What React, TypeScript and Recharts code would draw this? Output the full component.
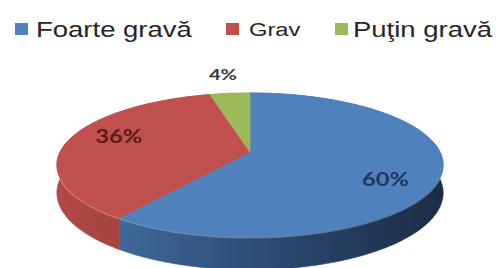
import React from 'react';
import { PieChart, Pie, Cell, Legend } from 'recharts';

const categories = ['Foarte gravă', 'Grav', 'Puţin gravă'];
const values = [60, 36, 4];
const topColors = ['#4f81bd', '#c0504d', '#9bbb59'];
const wallColors = ['url(#wallBlue)', 'url(#wallRed)', 'url(#wallGreen)'];
const labelColors = ['#1f3864', '#5a1e1c', '#383838'];

const data = categories.map((name, i) => ({ name, value: values[i] }));

const TILT = 0.3666;
const PERSP = 0.18;
const DEPTH = 27;
const STRETCH = 1.25;
const RAD = Math.PI / 180;

function project(cx: number, cy: number, R: number, angle: number, r: number) {
  const u = r * Math.cos(angle * RAD);
  const v = -r * Math.sin(angle * RAD);
  const denom = 1 - PERSP * v;
  return { x: cx + (R * u) / denom, y: cy + (R * TILT * v) / denom, denom, v };
}

function rimPoints(props: any) {
  const { cx, cy, outerRadius, startAngle, endAngle } = props;
  const n = Math.max(2, Math.ceil(Math.abs(endAngle - startAngle) / 1.5));
  const pts: { x: number; y: number; denom: number }[] = [];
  for (let i = 0; i <= n; i++) {
    const a = startAngle + ((endAngle - startAngle) * i) / n;
    pts.push(project(cx, cy, outerRadius, a, 1));
  }
  return pts;
}

function TopShape(props: any) {
  const { cx, cy, fill } = props;
  const pts = rimPoints(props);
  let d = `M${cx},${cy}`;
  pts.forEach((p) => (d += ` L${p.x.toFixed(2)},${p.y.toFixed(2)}`));
  d += ' Z';
  return <path d={d} fill={fill} stroke={fill} strokeWidth={0.6} />;
}

function WallShape(props: any) {
  const { fill } = props;
  const pts = rimPoints(props);
  let rim = '';
  pts.forEach((p, i) => (rim += `${i === 0 ? 'M' : ' L'}${p.x.toFixed(2)},${(p.y + 0.8).toFixed(2)}`));
  let d = '';
  pts.forEach((p, i) => (d += `${i === 0 ? 'M' : ' L'}${p.x.toFixed(2)},${p.y.toFixed(2)}`));
  for (let i = pts.length - 1; i >= 0; i--) {
    const p = pts[i];
    d += ` L${p.x.toFixed(2)},${(p.y + DEPTH / p.denom).toFixed(2)}`;
  }
  d += ' Z';
  return (
    <g>
      <path d={d} fill={fill} stroke={fill} strokeWidth={0.6} />
      <path d={rim} fill="none" stroke="rgba(255,255,255,0.28)" strokeWidth={1.6} />
    </g>
  );
}

function renderLabel(props: any) {
  const { cx, cy, outerRadius, midAngle, percent, index } = props;
  const big = percent >= 0.1;
  const r = big ? 0.72 : 1.42;
  const p = project(cx, cy, outerRadius, midAngle, r);
  const vUnit = -Math.sin(midAngle * RAD);
  const y = big ? p.y + DEPTH * 1.35 * vUnit : p.y;
  const fs = big ? 19 : 16;
  return (
    <text
      transform={`translate(${p.x.toFixed(1)},${(y + fs * 0.36).toFixed(1)}) scale(${STRETCH},1)`}
      x={0}
      y={0}
      textAnchor="middle"
      fontFamily="Lato, 'Open Sans', sans-serif"
      fontWeight={700}
      fontSize={fs}
      fill={labelColors[index]}
    >
      {`${Math.round(percent * 100)}%`}
    </text>
  );
}

const legendLayout = [
  { sx: 15, tx: 36, fs: 22, base: 37 },
  { sx: 226, tx: 249, fs: 19, base: 36 },
  { sx: 335, tx: 353, fs: 22, base: 37 },
];

function LegendContent() {
  return (
    <svg width={501} height={48} style={{ display: 'block' }}>
      {categories.map((name, i) => {
        const l = legendLayout[i];
        return (
          <g key={name}>
            <rect x={l.sx} y={23} width={13} height={12} fill={topColors[i]} />
            <text
              transform={`translate(${l.tx},${l.base}) scale(${STRETCH},1)`}
              x={0}
              y={0}
              fontFamily="'Liberation Sans', Arial, sans-serif"
              fontSize={l.fs}
              fill="#262626"
            >
              {name}
            </text>
          </g>
        );
      })}
    </svg>
  );
}

export default function App() {
  return (
    <div style={{ position: 'absolute', left: 0, top: 0, width: 501, height: 268, background: '#fff' }}>
      <PieChart width={501} height={268} margin={{ top: 0, right: 0, bottom: 0, left: 0 }}>
        <defs>
          <linearGradient id="wallBlue" gradientUnits="userSpaceOnUse" x1={57} y1={0} x2={443} y2={0}>
            <stop offset="0" stopColor="#4a72a8" />
            <stop offset="0.2" stopColor="#3d6596" />
            <stop offset="0.55" stopColor="#2c4a72" />
            <stop offset="1" stopColor="#1b2c45" />
          </linearGradient>
          <linearGradient id="wallRed" gradientUnits="userSpaceOnUse" x1={57} y1={0} x2={443} y2={0}>
            <stop offset="0" stopColor="#b24a46" />
            <stop offset="0.2" stopColor="#a3403d" />
            <stop offset="1" stopColor="#8a3230" />
          </linearGradient>
          <linearGradient id="wallGreen" gradientUnits="userSpaceOnUse" x1={57} y1={0} x2={443} y2={0}>
            <stop offset="0" stopColor="#7f9a48" />
            <stop offset="1" stopColor="#6a8039" />
          </linearGradient>
        </defs>
        <Legend
          layout="horizontal"
          verticalAlign="middle"
          align="center"
          wrapperStyle={{ position: 'absolute', top: 0, left: 0, width: 501, height: 48 }}
          content={() => <LegendContent />}
        />
        <Pie
          data={data}
          dataKey="value"
          nameKey="name"
          cx={250}
          cy={152}
          outerRadius={190}
          startAngle={90}
          endAngle={-270}
          isAnimationActive={false}
          shape={WallShape}
          legendType="none"
        >
          {data.map((d, i) => (
            <Cell key={d.name} fill={wallColors[i]} />
          ))}
        </Pie>
        <Pie
          data={data}
          dataKey="value"
          nameKey="name"
          cx={250}
          cy={152}
          outerRadius={190}
          startAngle={90}
          endAngle={-270}
          isAnimationActive={false}
          shape={TopShape}
          label={renderLabel}
          labelLine={false}
        >
          {data.map((d, i) => (
            <Cell key={d.name} fill={topColors[i]} />
          ))}
        </Pie>
      </PieChart>
    </div>
  );
}
